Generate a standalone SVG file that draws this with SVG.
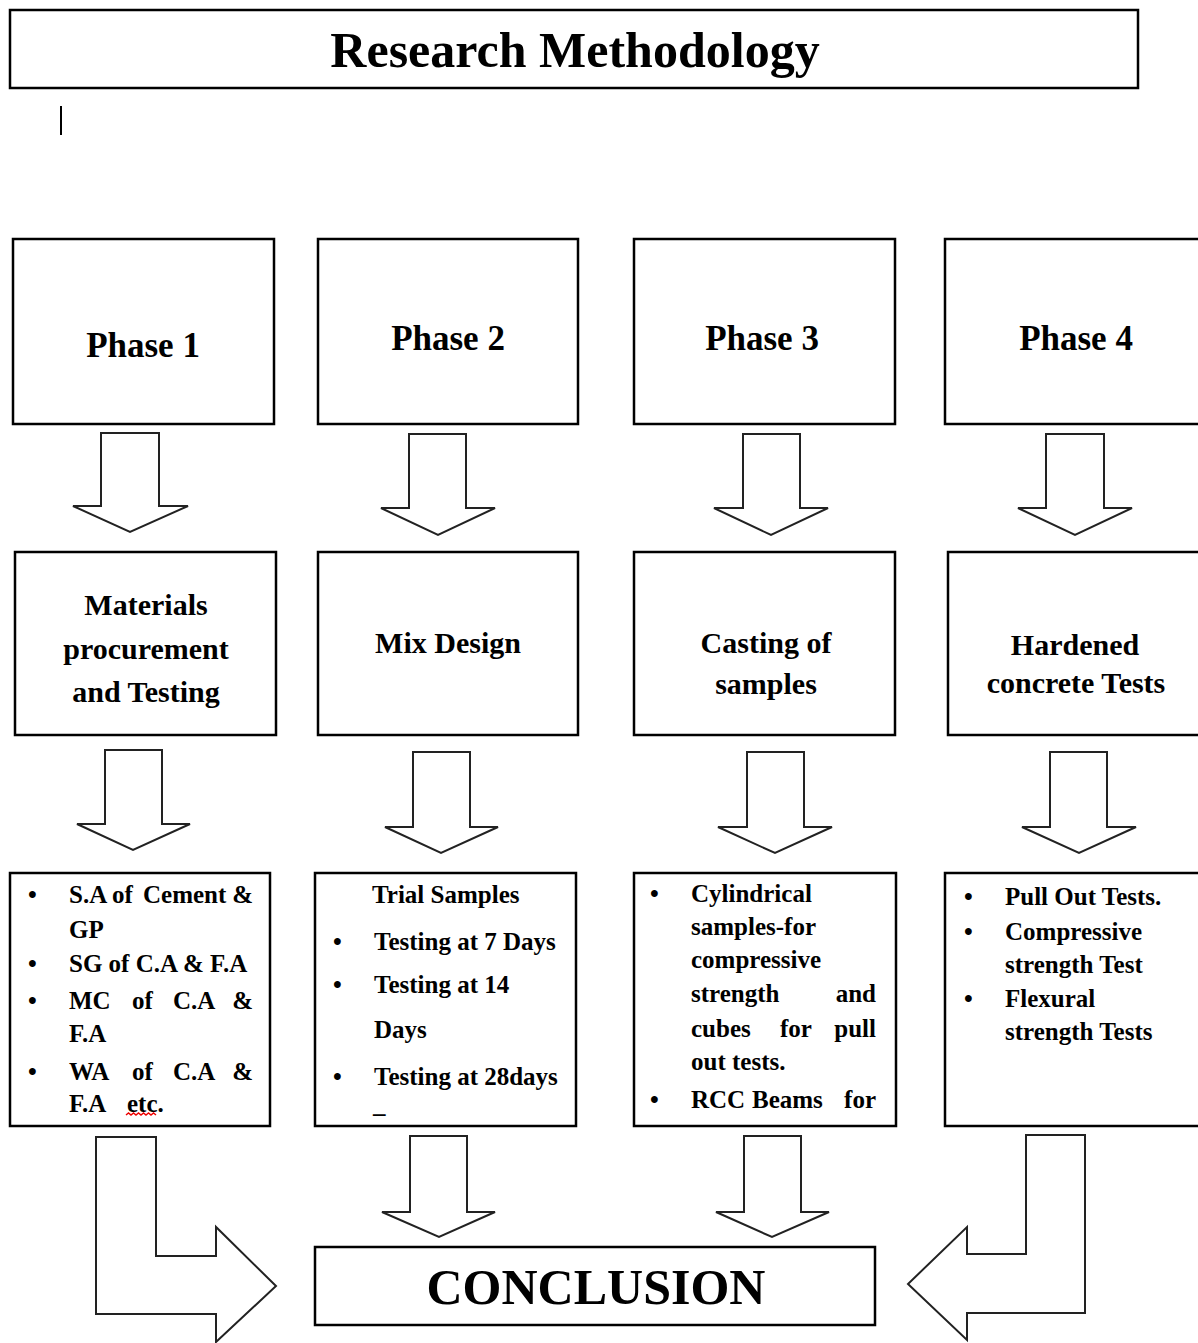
<svg xmlns="http://www.w3.org/2000/svg" width="1198" height="1343" viewBox="0 0 1198 1343">
<style>
.box{fill:#fff;stroke:#000;stroke-width:2.5}
.arr{fill:#fff;stroke:#222;stroke-width:2;stroke-linejoin:miter}
text{font-family:"Liberation Serif","Times New Roman",serif;font-weight:bold;fill:#000}
.t{font-size:50px;text-anchor:middle}
.ph{font-size:35px;text-anchor:middle}
.m{font-size:30px;text-anchor:middle}
.s{font-size:25px}
.e{text-anchor:end}
</style>
<rect width="1198" height="1343" fill="#fff"/>
<g id="title"><rect class="box" x="10" y="10" width="1128" height="78"/><text class="t" x="575" y="67">Research Methodology</text></g>
<line x1="61" y1="106" x2="61" y2="135" stroke="#000" stroke-width="2"/>
<g id="phase1"><rect class="box" x="13" y="239" width="261" height="185"/><text class="ph" x="143" y="357">Phase 1</text></g>
<g id="phase2"><rect class="box" x="318" y="239" width="260" height="185"/><text class="ph" x="448" y="350">Phase 2</text></g>
<g id="phase3"><rect class="box" x="634" y="239" width="261" height="185"/><text class="ph" x="762" y="350">Phase 3</text></g>
<g id="phase4"><rect class="box" x="945" y="239" width="270" height="185"/><text class="ph" x="1076" y="350">Phase 4</text></g>
<g id="materials"><rect class="box" x="15" y="552" width="261" height="183"/><text class="m" x="146" y="615">Materials</text><text class="m" x="146" y="659">procurement</text><text class="m" x="146" y="702">and Testing</text></g>
<g id="mix"><rect class="box" x="318" y="552" width="260" height="183"/><text class="m" x="448" y="653">Mix Design</text></g>
<g id="casting"><rect class="box" x="634" y="552" width="261" height="183"/><text class="m" x="766" y="653">Casting of</text><text class="m" x="766" y="694">samples</text></g>
<g id="hardened"><rect class="box" x="948" y="552" width="270" height="183"/><text class="m" x="1075" y="655">Hardened</text><text class="m" x="1076" y="693">concrete Tests</text></g>
<g id="list1"><rect class="box" x="10" y="873" width="260" height="253"/>
<g class="s">
<text x="28" y="903">•</text><text x="69" y="903">S.A</text><text x="112" y="903">of</text><text x="143" y="903">Cement</text><text x="253" y="903" class="e">&amp;</text>
<text x="69" y="938">GP</text>
<text x="28" y="972">•</text><text x="69" y="972">SG of C.A &amp; F.A</text>
<text x="28" y="1009">•</text><text x="69" y="1009">MC</text><text x="132" y="1009">of</text><text x="173" y="1009">C.A</text><text x="253" y="1009" class="e">&amp;</text>
<text x="69" y="1042">F.A</text>
<text x="28" y="1080">•</text><text x="69" y="1080">WA</text><text x="132" y="1080">of</text><text x="173" y="1080">C.A</text><text x="253" y="1080" class="e">&amp;</text>
<text x="69" y="1112">F.A</text><text x="127" y="1112">etc.</text>
</g>
<path d="M126 1115 l2.5 -2 2.5 2 2.5 -2 2.5 2 2.5 -2 2.5 2 2.5 -2 2.5 2 2.5 -2 2.5 2 2.5 -2 2.5 2" fill="none" stroke="#e00" stroke-width="1.5"/>
</g>
<g id="list2"><rect class="box" x="315" y="873" width="261" height="253"/>
<g class="s">
<text x="372" y="903">Trial Samples</text>
<text x="333" y="950">•</text><text x="374" y="950">Testing at 7 Days</text>
<text x="333" y="993">•</text><text x="374" y="993">Testing at 14</text>
<text x="374" y="1038">Days</text>
<text x="333" y="1085">•</text><text x="374" y="1085">Testing at 28days</text>
<text x="373" y="1121">–</text>
</g></g>
<g id="list3"><rect class="box" x="634" y="873" width="262" height="253"/>
<g class="s">
<text x="650" y="902">•</text><text x="691" y="902">Cylindrical</text>
<text x="691" y="935">samples-for</text>
<text x="691" y="968">compressive</text>
<text x="691" y="1002">strength</text><text x="876" y="1002" class="e">and</text>
<text x="691" y="1037">cubes</text><text x="780" y="1037">for</text><text x="876" y="1037" class="e">pull</text>
<text x="691" y="1070">out tests.</text>
<text x="650" y="1108">•</text><text x="691" y="1108">RCC</text><text x="752" y="1108">Beams</text><text x="876" y="1108" class="e">for</text>
</g></g>
<g id="list4"><rect class="box" x="945" y="873" width="270" height="253"/>
<g class="s">
<text x="964" y="905">•</text><text x="1005" y="905">Pull Out Tests.</text>
<text x="964" y="940">•</text><text x="1005" y="940">Compressive</text>
<text x="1005" y="973">strength Test</text>
<text x="964" y="1007">•</text><text x="1005" y="1007">Flexural</text>
<text x="1005" y="1040">strength Tests</text>
</g></g>
<g id="conclusion"><rect class="box" x="315" y="1247" width="560" height="78"/><text class="t" x="596" y="1304">CONCLUSION</text></g>
<g id="connectors">
<polygon class="arr" points="101,433 159,433 159,506 188,506 130,532 73,506 101,506"/>
<polygon class="arr" points="409,434 466,434 466,508 495,508 438,535 381,508 409,508"/>
<polygon class="arr" points="743,434 800,434 800,508 828,508 771,535 714,508 743,508"/>
<polygon class="arr" points="1046,434 1104,434 1104,508 1132,508 1075,535 1018,508 1046,508"/>
<polygon class="arr" points="105,750 162,750 162,824 190,824 133,850 77,824 105,824"/>
<polygon class="arr" points="413,752 470,752 470,827 498,827 441,853 385,827 413,827"/>
<polygon class="arr" points="747,752 804,752 804,827 832,827 775,853 718,827 747,827"/>
<polygon class="arr" points="1050,752 1107,752 1107,827 1136,827 1079,853 1022,827 1050,827"/>
<polygon class="arr" points="410,1136 467,1136 467,1212 495,1212 439,1237 382,1212 410,1212"/>
<polygon class="arr" points="744,1136 801,1136 801,1212 829,1212 772,1237 716,1212 744,1212"/>
<polygon class="arr" points="96,1137 156,1137 156,1256 216,1256 216,1227 276,1286 216,1342 216,1314 96,1314"/>
<polygon class="arr" points="1026,1135 1085,1135 1085,1313 967,1313 967,1340 908,1284 967,1227 967,1254 1026,1254"/>
</g>
</svg>
